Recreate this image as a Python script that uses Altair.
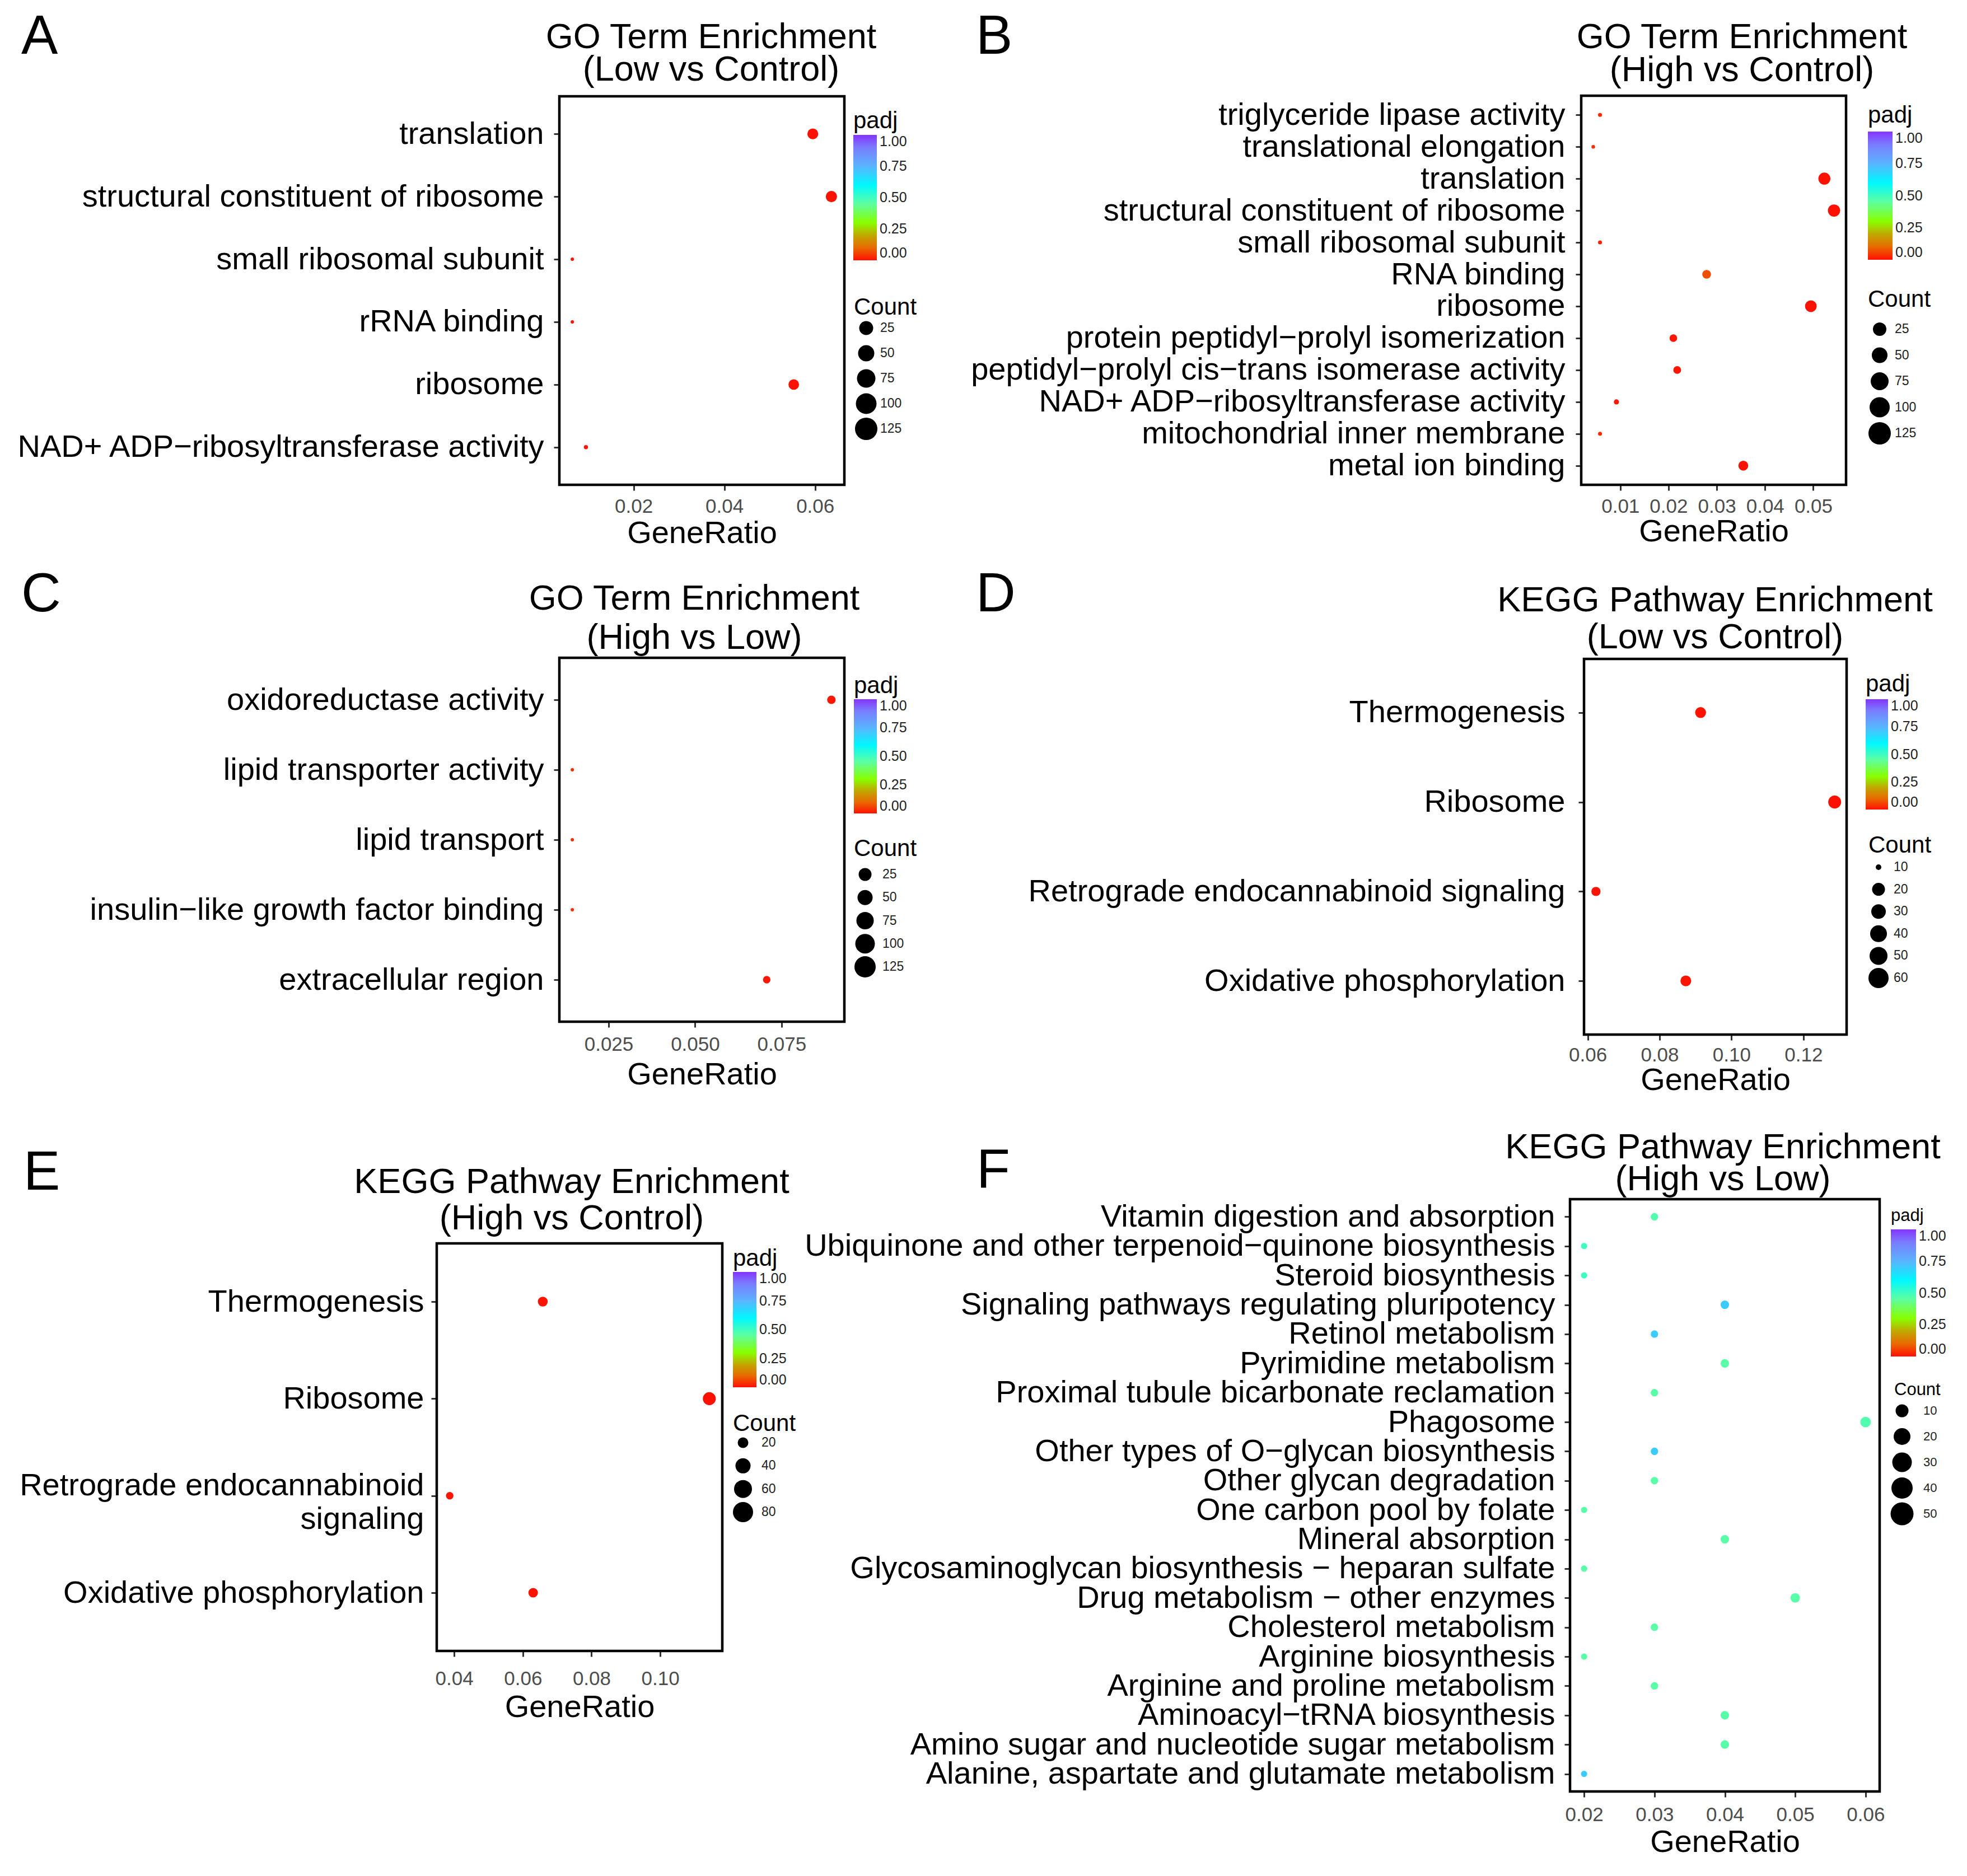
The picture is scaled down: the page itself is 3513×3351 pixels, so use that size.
import altair as alt
import pandas as pd

FONT = "Liberation Sans"
M = "\u2212"

# ---------------- data ----------------
A_terms = ["translation", "structural constituent of ribosome", "small ribosomal subunit",
           "rRNA binding", "ribosome", "NAD+ ADP" + M + "ribosyltransferase activity"]
A_ratio = [0.0595, 0.0636, 0.0065, 0.0065, 0.0553, 0.0095]
A_count = [40, 43, 4, 4, 38, 6]
A_padj = [0.001, 0.001, 0.004, 0.004, 0.001, 0.006]
A_ticks = [0.02, 0.04, 0.06]
A_size_values = [25, 50, 75, 100, 125]

B_terms = ["triglyceride lipase activity", "translational elongation", "translation",
           "structural constituent of ribosome", "small ribosomal subunit", "RNA binding", "ribosome",
           "protein peptidyl" + M + "prolyl isomerization",
           "peptidyl" + M + "prolyl cis" + M + "trans isomerase activity",
           "NAD+ ADP" + M + "ribosyltransferase activity", "mitochondrial inner membrane",
           "metal ion binding"]
B_ratio = [0.0058, 0.0044, 0.0523, 0.0543, 0.0058, 0.0279, 0.0495, 0.0210, 0.0218, 0.0092, 0.0058, 0.0355]
B_count = [6, 5, 55, 57, 6, 29, 52, 22, 23, 10, 6, 37]
B_padj = [0.03, 0.035, 0.001, 0.001, 0.02, 0.07, 0.001, 0.005, 0.005, 0.01, 0.03, 0.003]
B_ticks = [0.01, 0.02, 0.03, 0.04, 0.05]
B_size_values = [25, 50, 75, 100, 125]

C_terms = ["oxidoreductase activity", "lipid transporter activity", "lipid transport",
           "insulin" + M + "like growth factor binding", "extracellular region"]
C_ratio = [0.0894, 0.0145, 0.0145, 0.0145, 0.0707]
C_count = [26, 4, 4, 4, 20]
C_padj = [0.005, 0.03, 0.03, 0.03, 0.008]
C_ticks = [0.025, 0.050, 0.075]
C_size_values = [25, 50, 75, 100, 125]

D_terms = ["Thermogenesis", "Ribosome", "Retrograde endocannabinoid signaling", "Oxidative phosphorylation"]
D_ratio = [0.0914, 0.1287, 0.0623, 0.0873]
D_count = [30, 42, 21, 29]
D_padj = [0.001, 0.0005, 0.004, 0.002]
D_ticks = [0.06, 0.08, 0.10, 0.12]
D_size_values = [10, 20, 30, 40, 50, 60]

E_terms = ["Thermogenesis", "Ribosome", "Retrograde endocannabinoid\nsignaling", "Oxidative phosphorylation"]
E_ratio = [0.0658, 0.1143, 0.0387, 0.0630]
E_count = [31, 53, 18, 29]
E_padj = [0.002, 0.0005, 0.005, 0.002]
E_ticks = [0.04, 0.06, 0.08, 0.10]
E_size_values = [20, 40, 60, 80]

F_terms = ["Vitamin digestion and absorption",
           "Ubiquinone and other terpenoid" + M + "quinone biosynthesis",
           "Steroid biosynthesis", "Signaling pathways regulating pluripotency",
           "Retinol metabolism", "Pyrimidine metabolism",
           "Proximal tubule bicarbonate reclamation", "Phagosome",
           "Other types of O" + M + "glycan biosynthesis", "Other glycan degradation",
           "One carbon pool by folate", "Mineral absorption",
           "Glycosaminoglycan biosynthesis " + M + " heparan sulfate",
           "Drug metabolism " + M + " other enzymes", "Cholesterol metabolism",
           "Arginine biosynthesis", "Arginine and proline metabolism",
           "Aminoacyl" + M + "tRNA biosynthesis", "Amino sugar and nucleotide sugar metabolism",
           "Alanine, aspartate and glutamate metabolism"]
F_ratio = [0.03, 0.02, 0.02, 0.04, 0.03, 0.04, 0.03, 0.06, 0.03, 0.03,
           0.02, 0.04, 0.02, 0.05, 0.03, 0.02, 0.03, 0.04, 0.04, 0.02]
F_count = [10, 7, 7, 13, 10, 13, 10, 20, 10, 10, 7, 13, 7, 16, 10, 7, 10, 13, 13, 7]
F_padj = [0.47, 0.50, 0.50, 0.70, 0.70, 0.46, 0.46, 0.47, 0.70, 0.46,
          0.46, 0.46, 0.46, 0.46, 0.46, 0.46, 0.46, 0.46, 0.46, 0.70]
F_ticks = [0.02, 0.03, 0.04, 0.05, 0.06]
F_size_values = [10, 20, 30, 40, 50]

PADJ_TICKS = [0, 0.25, 0.5, 0.75, 1.0]

# ---------------- style ----------------
PADJ_STOPS = [0, 0.1, 0.2, 0.3, 0.45, 0.6, 0.75, 0.9, 1.0]
PADJ_COLORS = ["#ff1000", "#e86a00", "#c0a800", "#88ff00", "#5effa0",
               "#00f8ff", "#5ab4ff", "#7a7cff", "#8533ff"]

# ---------------- layout (absolute page px; view origin is at page (8, 8)) ----------------
VW, VH = 3490, 3330
O = 8
LAY = {
    "A": dict(x0=999, x1=1508, y0=172, y1=866, letter=(38, 96),
              title=(1270, 86, 144), ylp=18, xlp=11, xtp=3,
              cleg=(1524, 196, 224, 42, 241), lt=42, ll=25, amax=1170,
              sleg=dict(tx=1525, tb=562, dx=1547, cy=[586, 631, 675, 720, 766],
                        d=[25, 29, 33, 37, 40], lx=1572, fs=23)),
    "B": dict(x0=2824, x1=3297, y0=171, y1=866, letter=(1743, 96),
              title=(3111, 86, 145), ylp=19, xlp=11, xtp=0,
              cleg=(3336, 186, 229, 44, 235), lt=42, ll=25, amax=1050,
              sleg=dict(tx=3336, tb=548, dx=3357, cy=[588, 635, 681, 728, 774],
                        d=[24, 28, 32, 36, 40], lx=3384, fs=23)),
    "C": dict(x0=999, x1=1508, y0=1175, y1=1825, letter=(38, 1092),
              title=(1240, 1089, 1159), ylp=18, xlp=13, xtp=9,
              cleg=(1525, 1205, 204, 41, 1249), lt=42, ll=25, amax=1105,
              sleg=dict(tx=1525, tb=1529, dx=1545, cy=[1562, 1603, 1644, 1686, 1727],
                        d=[23, 27, 31, 35, 38], lx=1576, fs=23)),
    "D": dict(x0=2829, x1=3298, y0=1177, y1=1848, letter=(1743, 1092),
              title=(3063, 1092, 1158), ylp=24, xlp=9, xtp=0,
              cleg=(3332, 1202, 197, 40, 1249), lt=42, ll=25, amax=760,
              sleg=dict(tx=3337, tb=1523, dx=3355, cy=[1549, 1588, 1628, 1667, 1707, 1747],
                        d=[10, 23, 26, 30, 32, 36], lx=3382, fs=23)),
    "E": dict(x0=780, x1=1290, y0=2221, y1=2949, letter=(42, 2125),
              title=(1021, 2131, 2196), ylp=13, xlp=22, xtp=6,
              cleg=(1309, 2228, 206, 42, 2272), lt=42, ll=25, amax=804,
              sleg=dict(tx=1309, tb=2556, dx=1327, cy=[2577, 2618, 2659, 2701],
                        d=[19, 27, 32, 36], lx=1360, fs=23)),
    "F": dict(x0=2804, x1=3357, y0=2142, y1=3200, letter=(1744, 2121),
              title=(3077, 2069, 2126), ylp=17, xlp=14, xtp=4,
              cleg=(3377, 2157, 227, 45, 2196), lt=31, ll=25, amax=885,
              sleg=dict(tx=3383, tb=2492, dx=3397, cy=[2520, 2566, 2612, 2658, 2704],
                        d=[23, 30, 35, 38, 41], lx=3435, fs=22)),
}

ONE = pd.DataFrame({"k": [0]})


def panel(key, terms, ratio, count, padj, ticks, fmt, size_values, title_lines):
    L = LAY[key]
    x0, x1, y0, y1 = L["x0"] - O, L["x1"] - O, L["y0"] - O, L["y1"] - O
    lo, hi = min(ratio), max(ratio)
    rg = hi - lo
    dom = [lo - 0.05 * rg, hi + 0.05 * rg]
    df = pd.DataFrame({"term": terms, "ratio": ratio, "count": count, "padj": padj})

    cx, cy, clen, cth, gtop = L["cleg"]
    ctp = max(0, gtop - cy - L["lt"])

    pts = alt.Chart(df).mark_circle(opacity=1, strokeWidth=0).encode(
        x=alt.X("ratio:Q",
                scale=alt.Scale(domain=dom, nice=False, zero=False, range=[x0, x1]),
                axis=alt.Axis(orient="bottom", offset=y1 - VH,
                              values=ticks, format=fmt, title="GeneRatio",
                              labelFontSize=35, labelColor="#4d4d4d",
                              titleFontSize=56, titleColor="black", titleFontWeight="normal",
                              labelPadding=L["xlp"], titlePadding=L["xtp"], tickSize=10,
                              labelFlush=False, domain=False, grid=False)),
        y=alt.Y("term:N", sort=terms,
                scale=alt.Scale(type="point", padding=0.6, range=[y0, y1]),
                axis=alt.Axis(orient="left", offset=-x0,
                              title=None, labelFontSize=56, labelColor="black",
                              labelPadding=L["ylp"], labelLimit=3000, tickSize=10,
                              domain=False, grid=False,
                              labelExpr="split(datum.label, '\\n')", labelLineHeight=60,
                              labelOffset=alt.condition("indexof(datum.label, '\\n') >= 0",
                                                        alt.value(-18), alt.value(0)))),
        color=alt.Color("padj:Q",
                        scale=alt.Scale(domain=PADJ_STOPS, range=PADJ_COLORS, interpolate="rgb"),
                        legend=alt.Legend(title="padj", orient="none", direction="vertical",
                                          legendX=cx - O, legendY=cy - O,
                                          gradientLength=clen, gradientThickness=cth,
                                          gradientStrokeWidth=0,
                                          values=PADJ_TICKS, format=".2f",
                                          labelFontSize=L["ll"], labelColor="#222222",
                                          labelOffset=5, labelOverlap=False,
                                          titleFontSize=L["lt"], titleFontWeight="normal",
                                          titleColor="black", titlePadding=ctp, padding=0)),
        size=alt.Size("count:Q",
                      scale=alt.Scale(domain=[0, size_values[-1]], range=[0, L["amax"]]),
                      legend=None),
    )

    # white ticks on the colour bar (as ggplot draws them)
    tdf = pd.DataFrame({"t": PADJ_TICKS})
    tscale = alt.Scale(domain=[0, 1], range=[gtop + clen - O, gtop - O], nice=False, zero=False)
    tl = max(6, round(cth * 0.2))
    cbt1 = alt.Chart(tdf).mark_rule(color="white", strokeWidth=2, opacity=0.9).encode(
        y=alt.Y("t:Q", scale=tscale, axis=None),
        x=alt.value(cx - O), x2=alt.value(cx - O + tl))
    cbt2 = alt.Chart(tdf).mark_rule(color="white", strokeWidth=2, opacity=0.9).encode(
        y=alt.Y("t:Q", scale=tscale, axis=None),
        x=alt.value(cx - O + cth - tl), x2=alt.value(cx - O + cth))

    # size legend (Count); symbol size in Vega = (diameter)^2
    S = L["sleg"]
    n = len(size_values)
    ldf = pd.DataFrame({"v": size_values, "i": list(range(n)),
                        "lab": [str(v) for v in size_values],
                        "a": [d * d for d in S["d"]]})
    yscale = alt.Scale(domain=[0, n - 1], range=[S["cy"][0] - O, S["cy"][-1] - O],
                       nice=False, zero=False)
    lcirc = alt.Chart(ldf).mark_circle(opacity=1, color="black", strokeWidth=0).encode(
        x=alt.value(S["dx"] - O),
        y=alt.Y("i:Q", scale=yscale, axis=None),
        size=alt.Size("a:Q", scale=None, legend=None))
    llab = alt.Chart(ldf).mark_text(align="left", baseline="middle", fontSize=S["fs"],
                                    color="#222222").encode(
        x=alt.value(S["lx"] - O),
        y=alt.Y("i:Q", scale=yscale, axis=None),
        text="lab:N")
    ltit = alt.Chart(ONE).mark_text(text="Count", fontSize=L["lt"], align="left",
                                    baseline="alphabetic", color="black").encode(
        x=alt.value(S["tx"] - O), y=alt.value(S["tb"] - O))

    box = alt.Chart(ONE).mark_rect(fillOpacity=0, stroke="black", strokeWidth=4.5).encode(
        x=alt.value(x0), x2=alt.value(x1), y=alt.value(y0), y2=alt.value(y1))

    lx, lb = L["letter"]
    letter = alt.Chart(ONE).mark_text(text=key, fontSize=98, align="left",
                                      baseline="alphabetic", color="black").encode(
        x=alt.value(lx - O), y=alt.value(lb - O))

    tcx, tb1, tb2 = L["title"]
    t1 = alt.Chart(ONE).mark_text(text=title_lines[0], fontSize=63, align="center",
                                  baseline="alphabetic", color="black").encode(
        x=alt.value(tcx - O), y=alt.value(tb1 - O))
    t2 = alt.Chart(ONE).mark_text(text=title_lines[1], fontSize=63, align="center",
                                  baseline="alphabetic", color="black").encode(
        x=alt.value(tcx - O), y=alt.value(tb2 - O))

    return [pts, cbt1, cbt2, lcirc, llab, ltit, box, letter, t1, t2]


layers = []
layers += panel("A", A_terms, A_ratio, A_count, A_padj, A_ticks, ".2f", A_size_values,
                ["GO Term Enrichment", "(Low vs Control)"])
layers += panel("B", B_terms, B_ratio, B_count, B_padj, B_ticks, ".2f", B_size_values,
                ["GO Term Enrichment", "(High vs Control)"])
layers += panel("C", C_terms, C_ratio, C_count, C_padj, C_ticks, ".3f", C_size_values,
                ["GO Term Enrichment", "(High vs Low)"])
layers += panel("D", D_terms, D_ratio, D_count, D_padj, D_ticks, ".2f", D_size_values,
                ["KEGG Pathway Enrichment", "(Low vs Control)"])
layers += panel("E", E_terms, E_ratio, E_count, E_padj, E_ticks, ".2f", E_size_values,
                ["KEGG Pathway Enrichment", "(High vs Control)"])
layers += panel("F", F_terms, F_ratio, F_count, F_padj, F_ticks, ".2f", F_size_values,
                ["KEGG Pathway Enrichment", "(High vs Low)"])

chart = alt.layer(*layers).resolve_scale(
    x="independent", y="independent", color="independent", size="independent"
).resolve_axis(x="independent", y="independent").resolve_legend(
    color="independent", size="independent"
).properties(
    width=VW, height=VH, padding=0, background="white",
    autosize=alt.AutoSizeParams(type="none")
).configure(font=FONT).configure_view(strokeWidth=0).configure_axis(
    labelFont=FONT, titleFont=FONT, tickColor="#333333", tickWidth=3
).configure_legend(labelFont=FONT, titleFont=FONT).configure_text(font=FONT)

chart.save("out.html", embed_options={"renderer": "svg", "actions": False})
